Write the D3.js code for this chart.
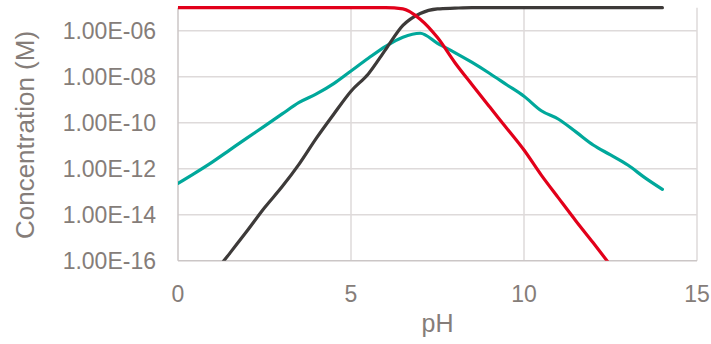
<!DOCTYPE html>
<html><head><meta charset="utf-8">
<script src="https://cdn.jsdelivr.net/npm/d3@7"></script>
<style>body{margin:0;background:#fff}svg{display:block}text{font-family:"Liberation Sans",Arial,sans-serif;fill:#857d79}</style>
</head><body><svg id="c" width="711" height="344"></svg>
<script>
const pH = [0,0.5,1,1.5,2,2.5,3,3.5,4,4.5,5,5.5,6,6.5,7,7.5,8,8.5,9,9.5,10,10.5,11,11.5,12,12.5,13,13.5,14];
// log10 of concentration (M)
const logRed   = [-5,-5,-5,-5,-5,-5,-5,-5,-5,-5,-5,-5,-5,-5.05,-5.5,-6.3,-7.38,-8.35,-9.3,-10.24,-11.19,-12.28,-13.28,-14.27,-15.22,-16.2,-17.2,-18.2,-19.2];
const logTeal  = [-12.64,-12.18,-11.7,-11.18,-10.66,-10.15,-9.63,-9.12,-8.75,-8.3,-7.75,-7.2,-6.68,-6.28,-6.11,-6.55,-6.95,-7.38,-7.85,-8.35,-8.85,-9.48,-9.85,-10.4,-10.97,-11.4,-11.84,-12.4,-12.9];
const logBlack = [-18.8,-17.75,-16.65,-15.67,-14.7,-13.7,-12.8,-11.8,-10.67,-9.63,-8.63,-7.88,-6.82,-5.77,-5.25,-5.05,-5.02,-5,-5,-5,-5,-5,-5,-5,-5,-5,-5,-5,-5];
const xTicks = [0,5,10,15];
const yTicks = [1e-16,1e-14,1e-12,1e-10,1e-8,1e-6];
const yLabels = ["1.00E-16","1.00E-14","1.00E-12","1.00E-10","1.00E-08","1.00E-06"];
const series = [
  {vals: logTeal, color: "#00a89b"},
  {vals: logBlack, color: "#3d3a39"},
  {vals: logRed, color: "#e2001a"}
];

const svg = d3.select("#c");
const L = 178, R = 697, T = 7.7, B = 260.7;
const x = d3.scaleLinear().domain([0,15]).range([L,R]);
const y = d3.scaleLog().domain([1e-16,1e-5]).range([B,T]);

svg.append("g").selectAll("line").data(yTicks.slice(1)).join("line")
  .attr("x1",L).attr("x2",R).attr("y1",d=>y(d)).attr("y2",d=>y(d))
  .attr("stroke","#dedada").attr("stroke-width",1.5);
svg.append("g").selectAll("line").data(xTicks.slice(1)).join("line")
  .attr("x1",d=>x(d)).attr("x2",d=>x(d)).attr("y1",T).attr("y2",B)
  .attr("stroke","#dedada").attr("stroke-width",1.5);
svg.append("line").attr("x1",L).attr("x2",L).attr("y1",T).attr("y2",B).attr("stroke","#cbc6c6").attr("stroke-width",1.5);
svg.append("line").attr("x1",L).attr("x2",R).attr("y1",B).attr("y2",B).attr("stroke","#cbc6c6").attr("stroke-width",1.5);

svg.append("clipPath").attr("id","clip").append("rect").attr("x",L).attr("y",0).attr("width",R-L).attr("height",B-0);

const line = d3.line().curve(d3.curveMonotoneX).x((d,i)=>x(pH[i])).y(d=>y(Math.pow(10,d)));
svg.append("g").attr("clip-path","url(#clip)").selectAll("path").data(series).join("path")
  .attr("d",d=>line(d.vals)).attr("fill","none").attr("stroke",d=>d.color)
  .attr("stroke-width",3.2).attr("stroke-linejoin","round").attr("stroke-linecap","round");

svg.append("g").selectAll("text").data(yTicks).join("text")
  .attr("x",156).attr("y",d=>y(d)+8).attr("text-anchor","end").attr("font-size",23)
  .text((d,i)=>yLabels[i]);
svg.append("g").selectAll("text").data(xTicks).join("text")
  .attr("x",d=>x(d)).attr("y",302).attr("text-anchor","middle").attr("font-size",23)
  .text(d=>d);
svg.append("text").attr("x",(L+R)/2).attr("y",332).attr("text-anchor","middle").attr("font-size",25).text("pH");
svg.append("text").attr("transform","translate(34,135) rotate(-90)").attr("text-anchor","middle").attr("font-size",26).text("Concentration (M)");
</script></body></html>
